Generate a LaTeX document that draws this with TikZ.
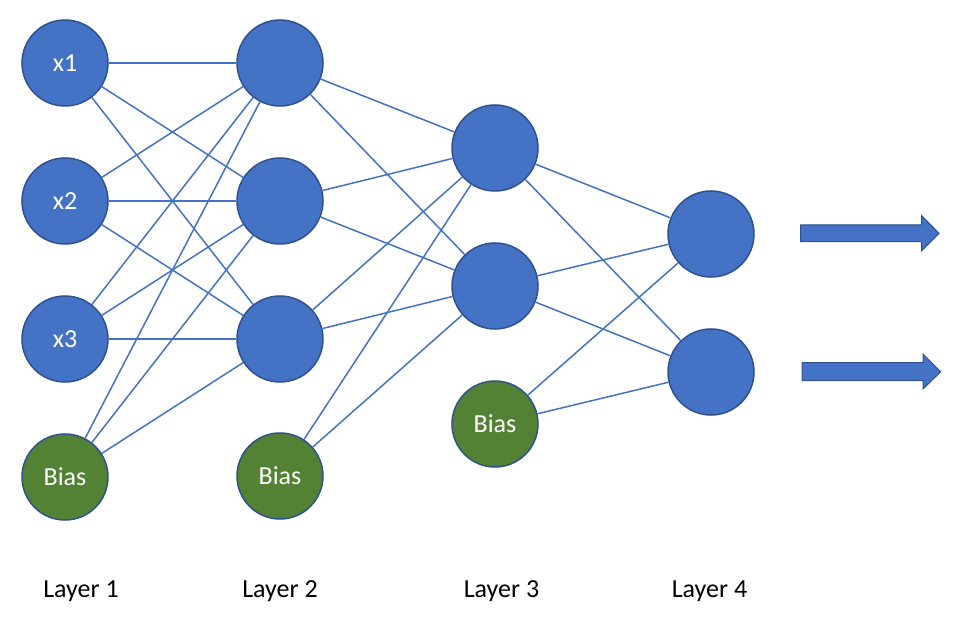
\documentclass[tikz,border=0pt]{standalone}
\usepackage{fontspec}
\setmainfont{Carlito}
\definecolor{nblue}{HTML}{4472C4}
\definecolor{nborder}{HTML}{2F528F}
\definecolor{ngreen}{HTML}{548235}
\begin{document}
\begin{tikzpicture}[x=1pt,y=-1pt,
  neuron/.style={circle,fill=nblue,draw=nborder,line width=1.5pt,minimum size=86pt,inner sep=0pt,text=white,font=\fontsize{26}{30}\selectfont},
  biasnode/.style={neuron,fill=ngreen},
  link/.style={draw=nblue,line width=1.5pt},
  layerlabel/.style={font=\fontsize{26}{30}\selectfont,text=black,anchor=base,inner sep=0pt},
  outarrow/.style={fill=nblue,draw=nborder,line width=1pt}]
\useasboundingbox (0,0) rectangle (956,620);
% Layer 1
\node[neuron] (a1) at (65,63) {x1};
\node[neuron] (a2) at (65,201) {x2};
\node[neuron] (a3) at (65,339) {x3};
\node[biasnode] (a4) at (65,477) {Bias};
% Layer 2
\node[neuron] (b1) at (280,63) {};
\node[neuron] (b2) at (280,201) {};
\node[neuron] (b3) at (280,339) {};
\node[biasnode] (b4) at (280,476) {Bias};
% Layer 3
\node[neuron] (c1) at (495,148) {};
\node[neuron] (c2) at (495,286) {};
\node[biasnode] (c3) at (495,424) {Bias};
% Layer 4
\node[neuron] (d1) at (711,234) {};
\node[neuron] (d2) at (711,372) {};
% connections
\foreach \i in {a1,a2,a3,a4} \foreach \j in {b1,b2,b3} \draw[link] (\i) -- (\j);
\foreach \i in {b1,b2,b3,b4} \foreach \j in {c1,c2} \draw[link] (\i) -- (\j);
\foreach \i in {c1,c2,c3} \foreach \j in {d1,d2} \draw[link] (\i) -- (\j);
% output arrows
\draw[outarrow] (800.7,225) -- (921.7,225) -- (921.7,215.7) -- (939,233.3) -- (921.7,250.7) -- (921.7,241.7) -- (800.7,241.7) -- cycle;
\draw[outarrow] (802,362.7) -- (923,362.7) -- (923,354) -- (940.7,371.7) -- (923,389) -- (923,380.7) -- (802,380.7) -- cycle;
% labels
\node[layerlabel] (l1) at (81,597) {Layer 1};
\node[layerlabel] (l2) at (280,597) {Layer 2};
\node[layerlabel] (l3) at (501.5,597) {Layer 3};
\node[layerlabel] (l4) at (709.5,597) {Layer 4};
\end{tikzpicture}
\end{document}
